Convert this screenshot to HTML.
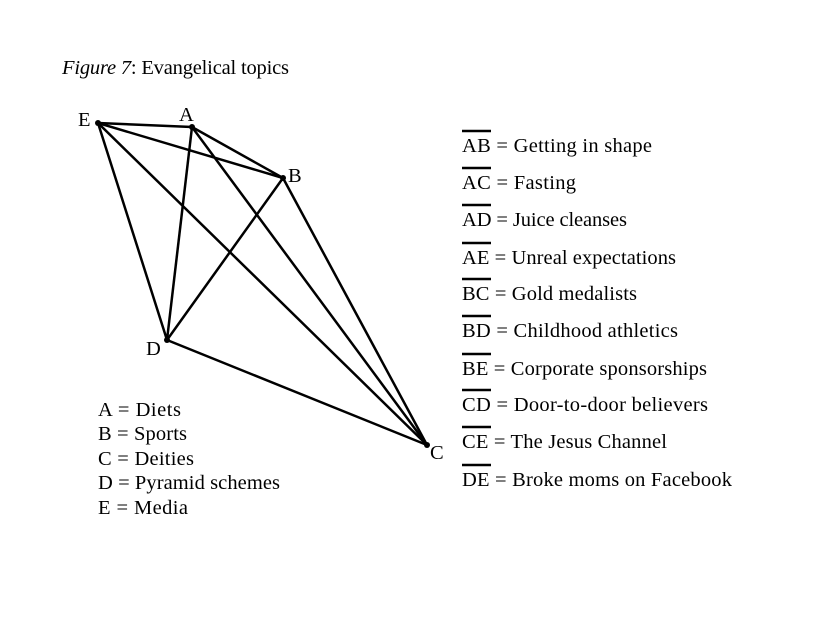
<!DOCTYPE html>
<html><head><meta charset="utf-8"><style>
body{margin:0;background:#fff;width:824px;height:618px;overflow:hidden;font-family:"Liberation Serif",serif;}
svg{position:absolute;left:0;top:0}
text{font-family:"Liberation Serif",serif;font-size:20.5px;fill:#000}
</style></head><body>
<svg width="824" height="618" viewBox="0 0 824 618">
<g stroke="#000" stroke-width="2.5" fill="none" stroke-linecap="round">
<line x1="98" y1="123" x2="192" y2="127"/>
<line x1="98" y1="123" x2="283" y2="178"/>
<line x1="98" y1="123" x2="167" y2="340"/>
<line x1="98" y1="123" x2="427" y2="445"/>
<line x1="192" y1="127" x2="283" y2="178"/>
<line x1="192" y1="127" x2="427" y2="445"/>
<line x1="192" y1="127" x2="167" y2="340"/>
<line x1="283" y1="178" x2="427" y2="445"/>
<line x1="283" y1="178" x2="167" y2="340"/>
<line x1="167" y1="340" x2="427" y2="445"/>
</g>
<g fill="#000">
<circle cx="98" cy="123" r="3"/><circle cx="192" cy="127" r="3"/><circle cx="283" cy="178" r="3"/><circle cx="167" cy="340" r="3"/><circle cx="427" cy="445" r="3"/>
</g>
<text x="62" y="74" textLength="227"><tspan font-style="italic">Figure 7</tspan>: Evangelical topics</text>
<text x="78" y="126">E</text>
<text x="179" y="121">A</text>
<text x="288" y="182">B</text>
<text x="146" y="355">D</text>
<text x="430" y="459">C</text>
<text x="98" y="416" textLength="83">A = Diets</text>
<text x="98" y="440" textLength="89">B = Sports</text>
<text x="98" y="465" textLength="96">C = Deities</text>
<text x="98" y="489" textLength="182">D = Pyramid schemes</text>
<text x="98" y="514" textLength="90">E = Media</text>
<g>
<text x="462" y="152" textLength="190">AB = Getting in shape</text>
<text x="462" y="189" textLength="114">AC = Fasting</text>
<text x="462" y="226" textLength="165">AD = Juice cleanses</text>
<text x="462" y="264" textLength="214">AE = Unreal expectations</text>
<text x="462" y="300" textLength="175">BC = Gold medalists</text>
<text x="462" y="337" textLength="216">BD = Childhood athletics</text>
<text x="462" y="375" textLength="245">BE = Corporate sponsorships</text>
<text x="462" y="411" textLength="246">CD = Door-to-door believers</text>
<text x="462" y="448" textLength="205">CE = The Jesus Channel</text>
<text x="462" y="486" textLength="270">DE = Broke moms on Facebook</text>
</g>
<g stroke="#000" stroke-width="2.5">
<line x1="462" y1="131" x2="491" y2="131"/>
<line x1="462" y1="168" x2="491" y2="168"/>
<line x1="462" y1="205" x2="491" y2="205"/>
<line x1="462" y1="243" x2="491" y2="243"/>
<line x1="462" y1="279" x2="491" y2="279"/>
<line x1="462" y1="316" x2="491" y2="316"/>
<line x1="462" y1="354" x2="491" y2="354"/>
<line x1="462" y1="390" x2="491" y2="390"/>
<line x1="462" y1="427" x2="491" y2="427"/>
<line x1="462" y1="465" x2="491" y2="465"/>
</g>
</svg>
</body></html>
